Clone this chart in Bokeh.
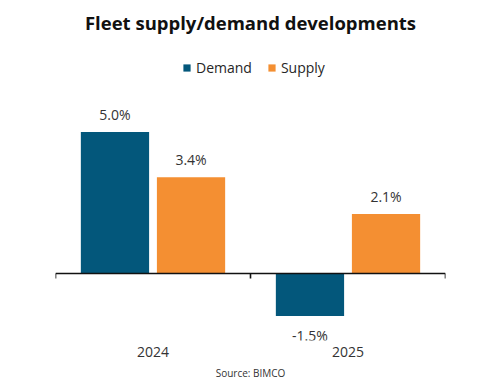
from bokeh.plotting import figure
from bokeh.models import ColumnDataSource, Span, Label, Legend, LegendItem, Title, FactorRange, Range1d
from bokeh.transform import dodge
from bokeh.core.properties import value
from bokeh.embed import file_html
from bokeh.resources import INLINE

# ---- data ----
years = ["2024", "2025"]
demand = [5.0, -1.5]
supply = [3.4, 2.1]
series_names = ["Demand", "Supply"]
title_text = "Fleet supply/demand developments"
source_text = "Source: BIMCO"

# ---- styles ----
BLUE = "#03577B"
ORANGE = "#F48F32"
FONT = "Open Sans"
W, H = 492, 392
LEFT, RIGHT, BOTTOM = 55, 47, 52
FRAME_H = H - BOTTOM
ZERO_PX = 273           # zero line, px from top of frame
PX = 28.3               # px per percentage point


def y_at(px_from_top):
    return (ZERO_PX - px_from_top) / PX


p = figure(width=W, height=H, output_backend="svg", toolbar_location=None,
           x_range=FactorRange(*years, range_padding=0),
           y_range=Range1d(y_at(FRAME_H), y_at(0)),
           min_border_left=LEFT, min_border_right=RIGHT,
           min_border_top=0, min_border_bottom=BOTTOM)
p.outline_line_color = None
p.grid.visible = False
p.yaxis.visible = False
p.background_fill_color = "white"
p.border_fill_color = "white"

ax = p.xaxis[0]
ax.axis_line_color = None
ax.major_tick_line_color = None
ax.minor_tick_line_color = None
ax.major_label_text_font = FONT
ax.major_label_text_font_size = "14px"
ax.major_label_text_color = "#333333"
ax.major_label_standoff = 0


def make_src(vals):
    return ColumnDataSource(dict(
        year=years,
        val=vals,
        lab=[f"{v:.1f}%" for v in vals],
        off=[-17.5 if v >= 0 else 20 for v in vals],
    ))


src_d = make_src(demand)
src_s = make_src(supply)

OFF = 0.195
BW = 0.35
r_d = p.vbar(x=dodge("year", -OFF, range=p.x_range), top="val", bottom=0, width=BW,
             source=src_d, fill_color=BLUE, line_color=None)
r_s = p.vbar(x=dodge("year", OFF, range=p.x_range), top="val", bottom=0, width=BW,
             source=src_s, fill_color=ORANGE, line_color=None)

for src, o in ((src_d, -OFF), (src_s, OFF)):
    p.text(x=dodge("year", o, range=p.x_range), y="val", text="lab", y_offset="off",
           source=src, text_align="center", text_baseline="middle",
           text_font=value(FONT), text_font_size="14px", text_color="#333333")

# zero axis line and category separators
p.add_layout(Span(location=0, dimension="width", line_color="#111111", line_width=1.6))
p.segment(x0=[0, 1, 2], y0=[0, 0, 0], x1=[0, 1, 2], y1=[-5 / PX] * 3,
          line_color="#111111", line_width=1.6)

# title
p.add_layout(Label(x=1, y=y_at(22), text=title_text, text_align="center",
                   text_baseline="middle", text_font=FONT, text_font_style="bold",
                   text_font_size="18.5px", text_color="#111111"))

# legend
legend = Legend(items=[LegendItem(label=series_names[0], renderers=[r_d]),
                       LegendItem(label=series_names[1], renderers=[r_s])],
                orientation="horizontal", location=(127, FRAME_H - 67 - 10),
                glyph_width=9, glyph_height=9, label_standoff=5, spacing=15,
                padding=0, margin=0, border_line_color=None,
                background_fill_alpha=0, label_text_font=FONT,
                label_text_font_size="14px", label_text_color="#262626",
                label_height=20)
p.add_layout(legend, "center")

# source note
p.add_layout(Title(text=source_text, align="center", text_font=FONT,
                   text_font_size="10px", text_font_style="normal",
                   text_color="#333333", standoff=8), "below")

open("out.html", "w").write(file_html(p, INLINE))
